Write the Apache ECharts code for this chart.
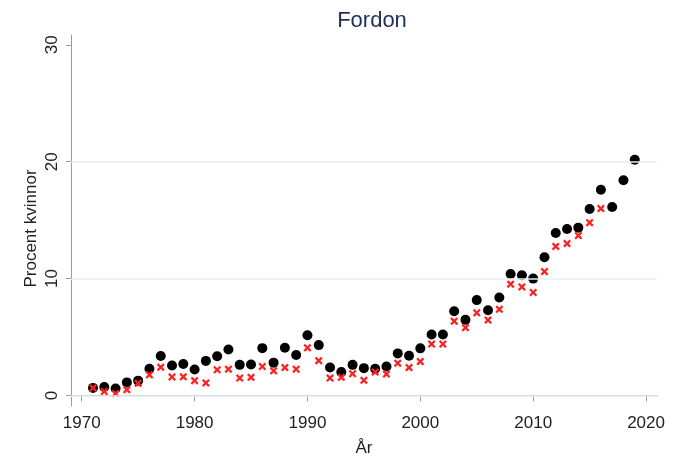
<!DOCTYPE html>
<html>
<head>
<meta charset="utf-8">
<title>Fordon</title>
<script src="https://cdn.jsdelivr.net/npm/echarts@6/dist/echarts.min.js"></script>
<style>
  html, body { margin: 0; padding: 0; background: #fff; }
  #chart { width: 687px; height: 462px; }
</style>
</head>
<body>
<div id="chart"></div>
<script>
// år och andel kvinnor (procent)
var years = [];
for (var y = 1971; y <= 2019; y++) years.push(y);

var serieA = [0.65, 0.73, 0.6, 1.12, 1.27, 2.28, 3.38, 2.56, 2.7, 2.22,
  2.96, 3.35, 3.94, 2.62, 2.65, 4.05, 2.81, 4.08, 3.46, 5.15,
  4.31, 2.39, 2.0, 2.62, 2.34, 2.28, 2.48, 3.6, 3.4, 4.03,
  5.21, 5.21, 7.21, 6.47, 8.16, 7.29, 8.39, 10.39, 10.28, 10.0,
  11.82, 13.9, 14.25, 14.36, 15.96, 17.6, 16.13, 18.41, 20.16];

var serieB = [0.65, 0.34, 0.17, 0.5, 1.04, 1.77, 2.42, 1.58, 1.6, 1.27,
  1.07, 2.2, 2.25, 1.49, 1.55, 2.48, 2.11, 2.39, 2.25, 4.08,
  2.98, 1.49, 1.55, 1.86, 1.3, 2.0, 1.83, 2.76, 2.39, 2.9,
  4.4, 4.4, 6.36, 5.8, 7.07, 6.45, 7.37, 9.52, 9.29, 8.81,
  10.6, 12.75, 13.0, 13.68, 14.78, 15.99, null, null, null];

var xTicks = [1970, 1980, 1990, 2000, 2010, 2020];
var yTicks = [0, 10, 20, 30];
var gridVals = [0, 10, 20];

function pairs(vals) {
  var out = [];
  for (var i = 0; i < years.length; i++) {
    if (vals[i] != null) out.push([years[i], vals[i]]);
  }
  return out;
}

var kryss = 'path://M2,0L5,3L8,0L10,2L7,5L10,8L8,10L5,7L2,10L0,8L3,5L0,2Z';
var font = 'Liberation Sans, Arial, sans-serif';

var chart = echarts.init(document.getElementById('chart'));
chart.setOption({
  animation: false,
  title: {
    text: 'Fordon',
    left: 367,
    top: 5,
    textAlign: 'center',
    textStyle: { fontFamily: font, fontSize: 22, fontWeight: 'normal', color: '#1e2f5e' }
  },
  grid: { left: 71, right: 30, top: 35, bottom: 50 },
  xAxis: {
    type: 'value',
    min: 1969.05,
    max: 2020.97,
    name: 'År',
    nameLocation: 'middle',
    nameGap: 34,
    nameTextStyle: { fontFamily: font, fontSize: 17, color: '#222' },
    axisLine: { show: true, lineStyle: { color: '#9a9a9a', width: 1 } },
    axisTick: { show: true, length: 6, customValues: xTicks, lineStyle: { color: '#9a9a9a' } },
    axisLabel: {
      customValues: xTicks,
      margin: 9,
      fontFamily: font, fontSize: 17, color: '#222',
      formatter: function (v) { return String(v); }
    },
    splitLine: { show: false }
  },
  yAxis: {
    type: 'value',
    min: -0.9,
    max: 30.84,
    name: 'Procent kvinnor',
    nameLocation: 'middle',
    nameGap: 31,
    nameMoveOverlap: false,
    nameTextStyle: { fontFamily: font, fontSize: 17, color: '#222', padding: [0, 16, 0, 0] },
    axisLine: { show: true, lineStyle: { color: '#9a9a9a', width: 1 } },
    axisTick: { show: true, length: 5, customValues: yTicks, lineStyle: { color: '#9a9a9a' } },
    axisLabel: {
      customValues: yTicks,
      rotate: 90,
      margin: 10,
      fontFamily: font, fontSize: 17, color: '#222',
      formatter: function (v) { return String(v); }
    },
    splitLine: { show: false }
  },
  series: [
    {
      type: 'scatter',
      data: pairs(serieA),
      symbol: 'circle',
      symbolSize: 10,
      itemStyle: { color: '#000', opacity: 1 },
      markLine: {
        silent: true,
        symbol: 'none',
        label: { show: false },
        lineStyle: { color: '#e6eff1', width: 1.5, type: 'solid' },
        data: gridVals.map(function (v) { return { yAxis: v }; })
      },
      z: 3
    },
    {
      type: 'scatter',
      data: pairs(serieB),
      symbol: kryss,
      symbolSize: 8,
      itemStyle: { color: '#ff2020', opacity: 1 },
      z: 4
    }
  ]
});
</script>
</body>
</html>
